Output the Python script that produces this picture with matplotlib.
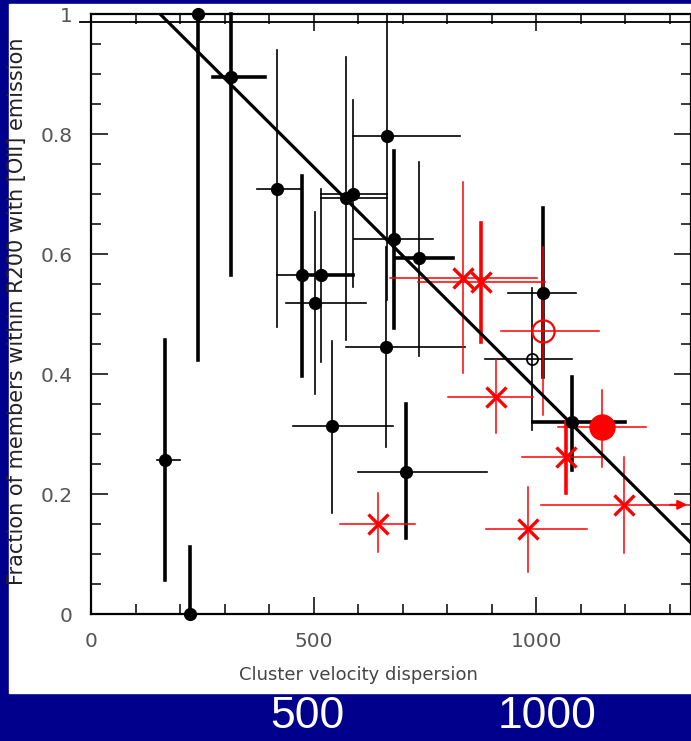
import matplotlib.pyplot as plt
import numpy as np
from matplotlib.ticker import MultipleLocator

# black clusters (filled circles): position, error bar ends, and thick/thin flags
bx = [166, 222, 240, 315, 418, 474, 517, 503, 542, 573, 589, 665, 681, 737, 663, 708, 1016, 1081]
by = [0.257, 0.0, 1.0, 0.895, 0.708, 0.565, 0.565, 0.518, 0.313, 0.693, 0.70, 0.797, 0.625, 0.593, 0.445, 0.237, 0.535, 0.32]
b_ylo = [0.057, 0.0, 0.423, 0.565, 0.478, 0.397, 0.42, 0.367, 0.168, 0.457, 0.545, 0.523, 0.477, 0.43, 0.278, 0.127, 0.395, 0.24]
b_yhi = [0.457, 0.112, 1.0, 1.0, 0.94, 0.73, 0.708, 0.67, 0.455, 0.928, 0.857, 1.0, 0.772, 0.753, 0.612, 0.35, 0.677, 0.395]
b_xlo = [148, 222, 240, 274, 373, 418, 470, 438, 454, 517, 517, 589, 591, 683, 573, 600, 937, 993]
b_xhi = [200, 222, 240, 391, 474, 517, 589, 618, 679, 665, 665, 829, 769, 813, 840, 890, 1090, 1200]
b_vthick = [1, 1, 1, 1, 0, 1, 0, 0, 0, 0, 0, 0, 1, 0, 0, 1, 1, 1]
b_hthick = [0, 0, 0, 1, 0, 0, 1, 0, 0, 0, 0, 0, 0, 1, 0, 0, 0, 1]

# black open circle
ox, oy = [991], [0.425]
o_ylo, o_yhi = [0.307], [0.543]
o_xlo, o_xhi = [885], [1081]

# red asterisks
rx = [836, 876, 910, 1067, 1198, 982, 645]
ry = [0.56, 0.553, 0.362, 0.262, 0.182, 0.142, 0.15]
r_ylo = [0.402, 0.453, 0.302, 0.202, 0.102, 0.07, 0.103]
r_yhi = [0.72, 0.652, 0.423, 0.32, 0.262, 0.212, 0.202]
r_xlo = [672, 735, 802, 969, 1011, 888, 560]
r_xhi = [1002, 1020, 993, 1151, 1348, 1115, 728]
r_vthick = [0, 1, 0, 1, 0, 0, 0]

# red open circle and red big filled circle
rox, roy = [1016], [0.472]
ro_ylo, ro_yhi = [0.332], [0.612]
ro_xlo, ro_xhi = [921], [1142]
rfx, rfy = [1148], [0.312]
rf_ylo, rf_yhi = [0.245], [0.373]
rf_xlo, rf_xhi = [1049], [1247]

# linear fit
fit_slope = -0.000739
fit_icpt = 1.1146

BLUE = '#00008C'
THICK = 2.6
THIN = 1.2

fig = plt.figure(figsize=(6.91, 7.41), dpi=100, facecolor=BLUE)
# white slide panel
fig.patches.append(plt.Rectangle((9 / 691, 1 - 693 / 741), 682 / 691, 689 / 741,
                                 transform=fig.transFigure, color='white', zorder=-5))

ax = fig.add_axes([91 / 691, 1 - 614 / 741, 600 / 691, 600 / 741])
ax.set_zorder(2)
ax.patch.set_alpha(0)
ax.set_xlim(0, 1348)
ax.set_ylim(0, 1)


def draw(xs, ys, ylo, yhi, xlo, xhi, vth, hth, color, thin):
    for i in range(len(xs)):
        if yhi[i] > ylo[i]:
            ax.plot([xs[i], xs[i]], [ylo[i], yhi[i]], color=color,
                    lw=THICK if vth[i] else thin, clip_on=False, zorder=2)
        if xhi[i] > xlo[i]:
            ax.plot([xlo[i], xhi[i]], [ys[i], ys[i]], color=color,
                    lw=THICK if hth[i] else thin, clip_on=False, zorder=2)


draw(bx, by, b_ylo, b_yhi, b_xlo, b_xhi, b_vthick, b_hthick, 'black', THIN)
ax.plot(bx, by, 'o', color='black', ms=8.5, clip_on=False, zorder=3)

draw(ox, oy, o_ylo, o_yhi, o_xlo, o_xhi, [0], [0], 'black', THIN)
ax.plot(ox, oy, 'o', mfc='none', mec='black', ms=8, mew=1.3, zorder=3)

draw(rx, ry, r_ylo, r_yhi, r_xlo, r_xhi, r_vthick, [0] * len(rx), 'red', 1.1)
ax.plot(rx, ry, 'x', color='red', ms=15, mew=2.4, zorder=3)

draw(rox, roy, ro_ylo, ro_yhi, ro_xlo, ro_xhi, [0], [0], 'red', 1.1)
ax.plot(rox, roy, 'o', mfc='none', mec='red', ms=16, mew=1.6, zorder=3)

draw(rfx, rfy, rf_ylo, rf_yhi, rf_xlo, rf_xhi, [0], [0], 'red', 1.1)
ax.plot(rfx, rfy, 'o', color='red', ms=18, zorder=3)

# lower-limit arrow on the red point at the right edge
ax.annotate('', xy=(1346, ry[4]), xytext=(1295, ry[4]),
            arrowprops=dict(arrowstyle='-|>', color='red', lw=1.5,
                            mutation_scale=14), annotation_clip=False)

# fit line
xf = np.array([0, 1400])
ax.plot(xf, fit_icpt + fit_slope * xf, color='black', lw=2.3, zorder=4)

# extra line near the top, extending past the left axis
ax.plot([-25, 1348], [0.987, 0.987], color='black', lw=1.3, clip_on=False)

ax.xaxis.set_minor_locator(MultipleLocator(100))
ax.yaxis.set_minor_locator(MultipleLocator(0.05))
ax.set_yticks([0, 0.2, 0.4, 0.6, 0.8, 1.0])
ax.set_yticklabels(['0', '0.2', '0.4', '0.6', '0.8', '1'])
ax.set_xticks([0, 500, 1000])
ax.set_xticklabels(['0', '500', '1000'])
ax.tick_params(which='both', direction='in', top=True, right=True, width=1.1,
               labelsize=14.5, labelcolor='#555555', pad=13)
ax.tick_params(which='major', length=12)
ax.tick_params(which='minor', length=7)
for s in ax.spines.values():
    s.set_linewidth(1.6)

fig.text(17 / 691, 1 - 311 / 741, 'Fraction of members within R200 with [OII] emission',
         rotation=90, ha='center', va='center', fontsize=15, color='#222222')
fig.text(358 / 691, 1 - 675 / 741, 'Cluster velocity dispersion',
         ha='center', va='center', fontsize=13, color='#444444')

fig.text(307 / 691, 1 - 716 / 741, '500', ha='center', va='center',
         fontsize=32, color='white', family='Liberation Sans')
fig.text(547 / 691, 1 - 716 / 741, '1000', ha='center', va='center',
         fontsize=32, color='white', family='Liberation Sans')

plt.savefig('out.png', dpi=100, facecolor=BLUE)
